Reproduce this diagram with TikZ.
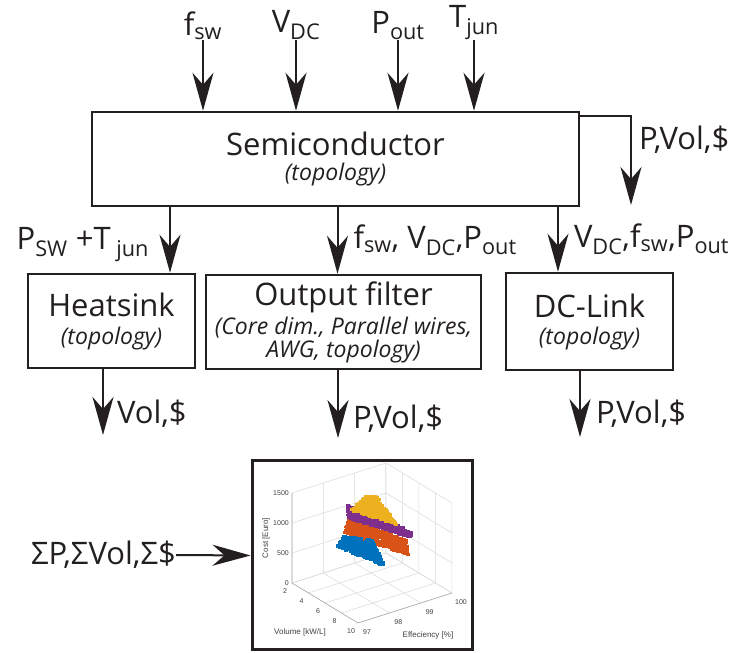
\documentclass[tikz,border=0pt]{standalone}
\usepackage{fontspec}
\setmainfont{Open Sans}
\newfontfamily\plotfont{Liberation Sans}
\usetikzlibrary{arrows.meta,positioning}
\definecolor{ink}{HTML}{231F20}
\definecolor{mblue}{HTML}{0072BD}
\definecolor{morange}{HTML}{D95319}
\definecolor{myellow}{HTML}{EDB120}
\definecolor{mpurple}{HTML}{7E2F8E}
\newcommand{\bigsz}{\fontsize{31}{34}\selectfont}
\newcommand{\subsz}{\fontsize{23}{23}\selectfont\itshape}
% random specks inside a triangle: colour, three corners, count
\newcommand{\cloud}[8]{%
  \foreach \k in {1,...,#8}{%
    \pgfmathsetmacro{\ra}{sqrt(rnd)}%
    \pgfmathsetmacro{\rb}{rnd}%
    \fill[#1] ({#2-2+\ra*((#4)+\rb*((#6)-(#4))-(#2))},{#3-1+\ra*((#5)+\rb*((#7)-(#5))-(#3))}) rectangle ++(4,2.5);
  }}
\begin{document}
\begin{tikzpicture}[>={Stealth[length=38pt,width=21pt,inset=12pt]},x=1pt,y=1pt,
    block/.style={draw=ink,line width=2.5pt,align=center,text=ink,font=\bigsz,inner sep=0pt},
    tag/.style={text=ink,font=\bigsz,inner sep=0pt},
    flow/.style={->,draw=ink,line width=2pt},
    gridline/.style={draw=gray!30,line width=0.5pt},
    axisline/.style={draw=gray!65,line width=0.6pt},
    tick/.style={text=black!75,font=\plotfont\fontsize{7}{8}\selectfont,inner sep=0pt}]
  \useasboundingbox (0,0) rectangle (736,653);
  \pgfmathsetseed{42}
  % blocks
  \node[block,minimum width=487,minimum height=94] (semi) at (335.5,494) {Semiconductor\\[-9pt]{\subsz (topology)}};
  \node[block,minimum width=167,minimum height=94] (heat) at (111.5,332) {Heatsink\\[-6pt]{\subsz (topology)}};
  \node[block,minimum width=275,minimum height=94] (filt) at (343.5,331) {Output filter\\[-5pt]{\subsz (Core dim., Parallel wires,}\\[-11pt]{\subsz AWG, topology)}};
  \node[block,minimum width=167,minimum height=97] (dcl) at (589.5,331.5) {DC-Link\\[-7pt]{\subsz (topology)}};
  \node[draw=ink,line width=3pt,minimum width=220,minimum height=189] (plot) at (362,97.5) {};
  % inputs
  \node[tag,anchor=south] (fsw) at (203,613) {f\textsubscript{sw}};
  \node[tag,anchor=south] (vdc) at (296,613) {V\textsubscript{DC}};
  \node[tag,anchor=south] (pout) at (398,613) {P\textsubscript{out}};
  \node[tag,anchor=south] (tjun) at (474,613) {T\textsubscript{jun}};
  \foreach \n in {fsw,vdc,pout,tjun}
    \draw[flow] (\n.south) -- (\n.south |- semi.north);
  % semiconductor losses
  \coordinate (sloss) at (631,448);
  \draw[flow] ([yshift=-5pt]semi.north east) -| (sloss);
  \node[tag,anchor=west] (slab) at (639,513) {P,Vol,\$};
  % branches
  \coordinate (hin) at ([xshift=58.5pt]heat.north);
  \coordinate (fin) at ([xshift=-6pt]filt.north);
  \coordinate (din) at ([xshift=-31.5pt]dcl.north);
  \draw[flow] (semi.south -| hin) -- (hin) node[tag,pos=0.57,left=20pt] {P\textsubscript{SW} +T\textsubscript{\ jun}};
  \draw[flow] (semi.south -| fin) -- (fin) node[tag,pos=0.5,right=15pt] {f\textsubscript{sw}, V\textsubscript{DC},P\textsubscript{out}};
  \draw[flow] (semi.south -| din) -- (din) node[tag,pos=0.5,right=15pt] {V\textsubscript{DC},f\textsubscript{sw},P\textsubscript{out}};
  % outputs
  \coordinate (hout) at (103,218);
  \coordinate (fout) at (338,215);
  \coordinate (dout) at (580,216);
  \draw[flow] (heat.south -| hout) -- (hout) node[tag,pos=0.67,right=13pt] {Vol,\$};
  \draw[flow] (filt.south -| fout) -- (fout) node[tag,pos=0.71,right=14pt] {P,Vol,\$};
  \draw[flow] (dcl.south -| dout) -- (dout) node[tag,pos=0.64,right=15pt] {P,Vol,\$};
  \node[tag,anchor=east] (sum) at (176,98) {ΣP,ΣVol,Σ\$};
  \draw[flow] (sum.east) -- (plot.west);
  % pareto plot
  \begin{scope}[shift={(292,70)},x={(8.25pt,-5pt)},y={(31.33pt,10pt)},z={(0pt,0.06pt)}]
    \foreach \v in {0,2,...,8}
      \draw[gridline] (\v,0,0) -- (\v,3,0) -- (\v,3,1500);
    \foreach \e in {0,1,2,3}
      \draw[gridline] (8,\e,0) -- (0,\e,0) -- (0,\e,1500);
    \foreach \c in {0,500,1000,1500}
      \draw[gridline] (0,0,\c) -- (0,3,\c) -- (8,3,\c);
    \draw[axisline] (0,0,1500) -- (0,0,0) -- (8,0,0) -- (8,3,0);
    \foreach \c in {0,500,1000,1500}
      \node[tick,anchor=east] at ([xshift=-3pt]0,0,\c) {\c};
    \foreach \v/\lab in {0/2,2/4,4/6,6/8,8/10}
      \node[tick] at ([xshift=-7pt,yshift=-8pt]\v,0,0) {\lab};
    \foreach \e/\lab in {0/97,1/98,2/99,3/100}
      \node[tick] at ([xshift=9pt,yshift=-9pt]8,\e,0) {\lab};
    \node[tick,font=\plotfont\fontsize{8}{9}\selectfont,rotate=90] at ([xshift=-26pt]0,0,750) {Cost [Euro]};
    \node[tick,font=\plotfont\fontsize{8}{9}\selectfont] at ([xshift=-25pt,yshift=-29pt]4,0,0) {Volume [kW/L]};
    \node[tick,font=\plotfont\fontsize{8}{9}\selectfont] at ([xshift=23pt,yshift=-27pt]8,1.5,0) {Effeciency [\%]};
  \end{scope}
  \cloud{morange}{349}{134}{406}{114}{344}{120}{260}
  \cloud{morange}{406}{114}{409}{97}{344}{120}{300}
  \cloud{mpurple}{347}{148}{413}{121}{349}{134}{300}
  \cloud{mpurple}{413}{121}{410}{115}{349}{134}{150}
  \cloud{myellow}{366}{157}{351}{142}{397}{128}{280}
  \cloud{myellow}{366}{157}{376}{157}{397}{128}{100}
  \cloud{mblue}{344}{117}{373}{113}{385}{86}{220}
  \cloud{mblue}{344}{117}{385}{86}{337}{106}{180}
\end{tikzpicture}
\end{document}
